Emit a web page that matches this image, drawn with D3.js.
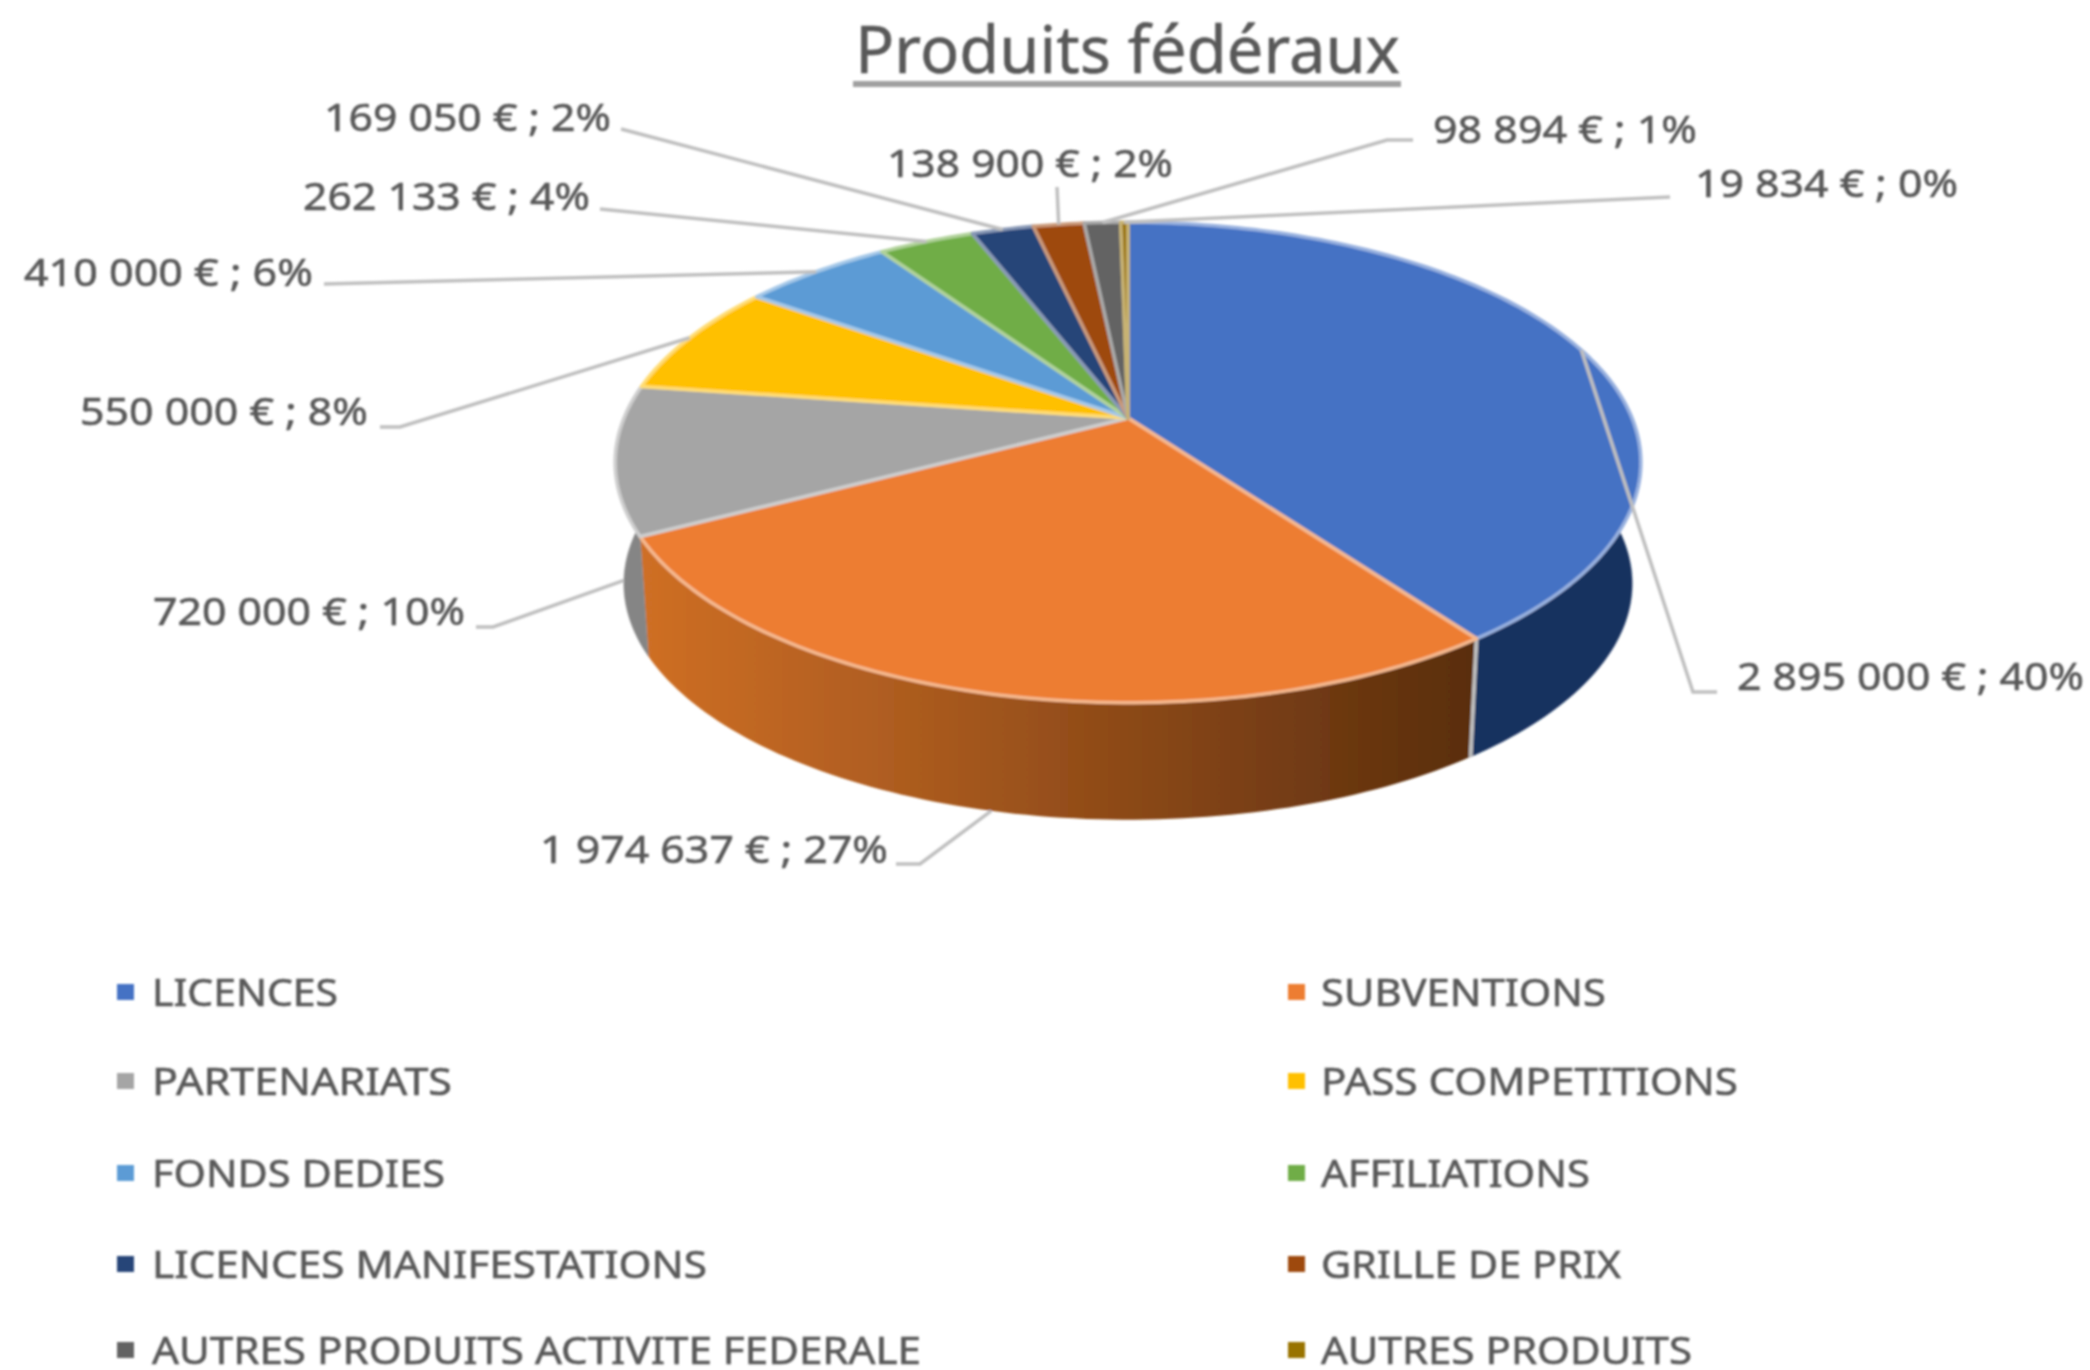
<!DOCTYPE html>
<html><head><meta charset="utf-8">
<script src="https://cdn.jsdelivr.net/npm/d3@7/dist/d3.min.js"></script>
<style>html,body{margin:0;padding:0;background:#fff}svg{display:block}text{font-family:"Noto Sans",sans-serif}</style>
</head><body><svg id="c" width="2090" height="1370"></svg>
<script>
const categories=["LICENCES","SUBVENTIONS","PARTENARIATS","PASS COMPETITIONS","FONDS DEDIES","AFFILIATIONS","LICENCES MANIFESTATIONS","GRILLE DE PRIX","AUTRES PRODUITS ACTIVITE FEDERALE","AUTRES PRODUITS"];
const values=[2895000,1974637,720000,550000,410000,262133,169050,138900,98894,19834];
const valueLabels=["2 895 000 € ; 40%","1 974 637 € ; 27%","720 000 € ; 10%","550 000 € ; 8%","410 000 € ; 6%","262 133 € ; 4%","169 050 € ; 2%","138 900 € ; 2%","98 894 € ; 1%","19 834 € ; 0%"];
const colors=["#4472c4","#ed7d31","#a5a5a5","#ffc000","#5b9bd5","#70ad47","#264478","#9e480e","#636363","#997300"];
const wallColors=["#16305f",null,"#858585","#9c7a00","#3d6a94","#4b7530","#1a2f54","#6e320a","#454545","#6a5000"];
// label layout: left x, text width, centre y, leader start, optional elbow, leader attaches to the lower rim
const labelLayout=[
 [1737,347,676,[1717,692],[1693,692],false],
 [540,348,849,[896,864],[920,864],true],
 [153,312,611,[476,627],[493,627],true],
 [80,288,411,[380,427],[400,427],false],
 [24,289,272,[324,284],null,false],
 [303,287,196,[600,209],null,false],
 [324,287,117,[621,129],null,false],
 [887,286,163,[1057,187],null,false],
 [1433,264,129,[1413,140],[1387,140],false],
 [1695,263,183,[1670,197],null,false]];
const legendWidths=[186,285,300,417,293,269,555,300,769,371];
const legendRows=[992,1081,1173,1264,1350];
const legendCols=[[117,152],[1288,1321]];

const svg=d3.select("#c");
const defs=svg.append("defs");
const f=defs.append("filter").attr("id","soft").attr("filterUnits","userSpaceOnUse")
 .attr("x",0).attr("y",0).attr("width",2090).attr("height",1370);
f.append("feGaussianBlur").attr("stdDeviation",1.3);
const g0=defs.append("linearGradient").attr("id","wallOrange").attr("gradientUnits","userSpaceOnUse")
 .attr("x1",640).attr("x2",1470).attr("y1",0).attr("y2",0);
[[0,"#cf6f25"],[.35,"#a95a1f"],[.6,"#8a4817"],[1,"#5a2e0e"]].forEach(s=>g0.append("stop").attr("offset",s[0]).attr("stop-color",s[1]));

const root=svg.append("g").attr("filter","url(#soft)");

// perspective projection of the unit disc
const cx=1128,cy=418,k=.185,sx=504,sy=232,depthScale=.983,vanishY=7588;
function topRim(a){const u=Math.sin(a),v=-Math.cos(a),w=1-k*v;return [cx+sx*u/w,cy+sy*v/w];}
function lowRim(a){const p=topRim(a);return [cx+depthScale*(p[0]-cx),vanishY+depthScale*(p[1]-vanishY)];}
const pie=d3.pie().sort(null).value(d=>d)(values);
const line=d3.line();
function arcPts(fn,a0,a1){const n=Math.max(2,Math.ceil((a1-a0)/.02));return d3.range(n+1).map(i=>fn(a0+(a1-a0)*i/n));}

// walls then top faces
pie.forEach((d,i)=>{
 const pts=arcPts(topRim,d.startAngle,d.endAngle).concat(arcPts(lowRim,d.startAngle,d.endAngle).reverse());
 root.append("path").attr("d",line(pts)+"Z")
  .attr("fill",i===1?"url(#wallOrange)":wallColors[i])
  .attr("stroke",i===1?"none":wallColors[i]).attr("stroke-width",.5);
});
root.append("path").attr("d",line([topRim(pie[0].endAngle),lowRim(pie[0].endAngle)])).attr("stroke","#bdbdbd").attr("stroke-width",4).attr("fill","none");
pie.forEach((d,i)=>{
 const pts=[[cx,cy]].concat(arcPts(topRim,d.startAngle,d.endAngle));
 root.append("path").attr("d",line(pts)+"Z").attr("fill",colors[i])
  .attr("stroke",d3.interpolateRgb(colors[i],"#fff")(.45)).attr("stroke-width",3.5).attr("stroke-linejoin","round");
});

// leaders
pie.forEach((d,i)=>{
 const L=labelLayout[i],mid=(d.startAngle+d.endAngle)/2;
 const end=L[5]?lowRim(mid):topRim(mid);
 root.append("path").attr("d",line([L[3]].concat(L[4]?[L[4]]:[]).concat([end])))
  .attr("fill","none").attr("stroke","#bfbfbf").attr("stroke-width",3.5);
});

// value labels
root.selectAll("text.val").data(valueLabels).join("text").attr("class","val")
 .attr("x",(d,i)=>labelLayout[i][0]).attr("y",(d,i)=>labelLayout[i][2]+14)
 .attr("textLength",(d,i)=>labelLayout[i][1]).attr("lengthAdjust","spacingAndGlyphs")
 .attr("font-size",39).attr("fill","#595959").attr("stroke","#595959").attr("stroke-width",.6).text(d=>d);

// title
root.append("text").attr("x",855).attr("y",73).attr("textLength",545).attr("lengthAdjust","spacingAndGlyphs")
 .attr("font-size",66).attr("fill","#595959").attr("stroke","#595959").attr("stroke-width",.5).text("Produits fédéraux");
root.append("line").attr("x1",853).attr("x2",1401).attr("y1",84).attr("y2",84).attr("stroke","#a0a0a0").attr("stroke-width",6);

// legend
categories.forEach((c,i)=>{
 const col=legendCols[i%2],y=legendRows[Math.floor(i/2)];
 root.append("rect").attr("x",col[0]).attr("y",y-8).attr("width",17).attr("height",16).attr("fill",colors[i]);
 root.append("text").attr("x",col[1]).attr("y",y+14).attr("textLength",legendWidths[i]).attr("lengthAdjust","spacingAndGlyphs")
  .attr("font-size",38).attr("fill","#595959").attr("stroke","#595959").attr("stroke-width",.6).text(c);
});
</script></body></html>
